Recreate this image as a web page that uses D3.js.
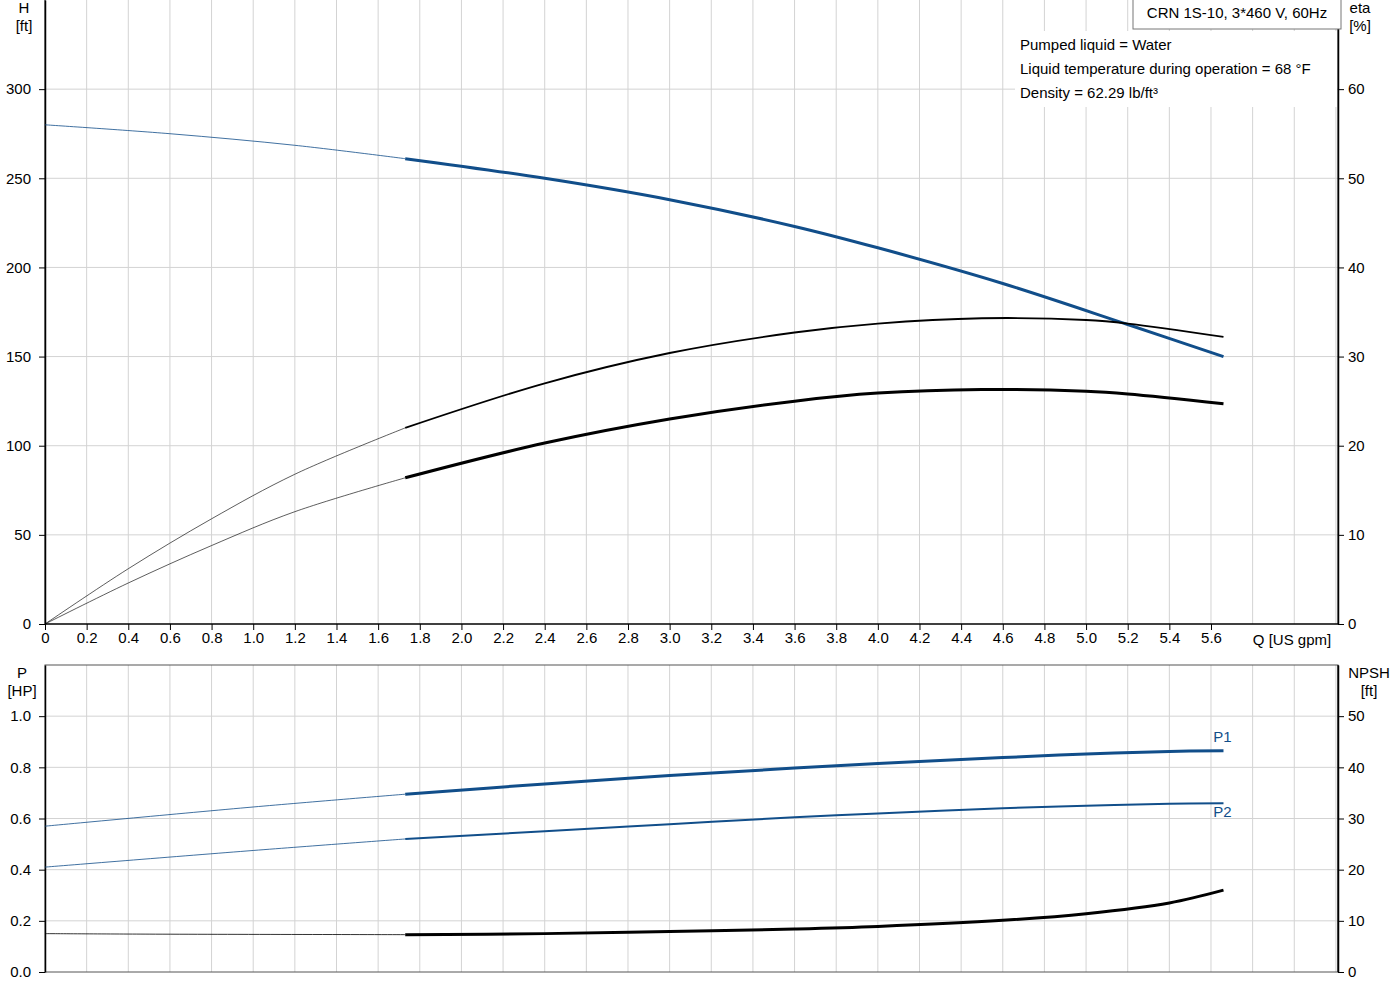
<!DOCTYPE html>
<html>
<head>
<meta charset="utf-8">
<script src="https://cdn.jsdelivr.net/npm/d3@7"></script>
<style>
body { margin: 0; background: #fff; }
text { font-family: Arial, "Liberation Sans", sans-serif; font-size: 15px; fill: #000; }
</style>
</head>
<body>
<svg id="chart"></svg>
<script>
// data
var qTicks = [0, 0.2, 0.4, 0.6, 0.8, 1.0, 1.2, 1.4, 1.6, 1.8, 2.0, 2.2, 2.4, 2.6, 2.8, 3.0, 3.2, 3.4, 3.6, 3.8, 4.0, 4.2, 4.4, 4.6, 4.8, 5.0, 5.2, 5.4, 5.6];
var hTicks = [0, 50, 100, 150, 200, 250, 300];
var etaTicks = [0, 10, 20, 30, 40, 50, 60];
var pTicks = [0, 0.2, 0.4, 0.6, 0.8, 1.0];
var npshTicks = [0, 10, 20, 30, 40, 50];

var qStart = 1.73; // start of the operating range (thick part)
var qHead = [0, 0.6, 1.2, 1.73, 2.4, 3.0, 3.6, 4.0, 4.6, 5.2, 5.66];
var head = [280, 275, 268.5, 261, 250, 238, 223, 211, 191, 168, 150];
var qEta = [0, 0.4, 0.8, 1.2, 1.73, 2.4, 3.0, 3.6, 4.0, 4.5, 5.0, 5.2, 5.66];
var eta1 = [0, 6.2, 11.8, 16.8, 22, 27, 30.4, 32.7, 33.7, 34.3, 34.1, 33.7, 32.2];
var eta2 = [0, 4.6, 8.8, 12.6, 16.4, 20.3, 23, 25, 25.9, 26.3, 26.1, 25.8, 24.7];
var qPow = [0, 1.0, 1.73, 2.4, 3.0, 3.6, 4.0, 4.6, 5.0, 5.4, 5.66];
var p1 = [0.57, 0.645, 0.695, 0.735, 0.768, 0.797, 0.815, 0.838, 0.852, 0.862, 0.865];
var p2 = [0.41, 0.475, 0.52, 0.55, 0.578, 0.605, 0.62, 0.64, 0.65, 0.658, 0.66];
var qNpsh = [0, 0.5, 1.73, 2.4, 3.0, 3.6, 4.0, 4.6, 5.0, 5.4, 5.66];
var npsh = [7.5, 7.4, 7.3, 7.5, 7.9, 8.4, 8.9, 10.1, 11.4, 13.5, 16];

var W = 1400, H = 1000;
var svg = d3.select('#chart').attr('width', W).attr('height', H);

var left = 45, right = 1338;
var x = d3.scaleLinear().domain([0, 6.21]).range([left, right]);

// top panel
var yH = d3.scaleLinear().domain([0, 350]).range([624, 0]);
var yEta = d3.scaleLinear().domain([0, 70]).range([624, 0]);
// bottom panel
var yP = d3.scaleLinear().domain([0, 1.2]).range([972, 665]);
var yN = d3.scaleLinear().domain([0, 60]).range([972, 665]);

var grid = '#d3d3d3';
var blue = '#114e8a';

function vgrid(y0, y1) {
    var g = svg.append('g');
    d3.range(1, 32).forEach(function (i) {
        var xv = x(i * 0.2);
        if (xv > right) return;
        g.append('line').attr('x1', xv).attr('x2', xv).attr('y1', y0).attr('y2', y1)
            .attr('stroke', grid).attr('stroke-width', 1);
    });
}
function hgrid(scale, ticks) {
    ticks.forEach(function (t) {
        if (t === 0) return;
        svg.append('line').attr('x1', left).attr('x2', right)
            .attr('y1', scale(t)).attr('y2', scale(t))
            .attr('stroke', grid);
    });
}
vgrid(0, 624);
vgrid(665, 972);
hgrid(yH, hTicks);
hgrid(yP, pTicks);

// frames
svg.append('line').attr('x1', left).attr('x2', left).attr('y1', 0).attr('y2', 624).attr('stroke', '#000');
svg.append('line').attr('x1', right).attr('x2', right).attr('y1', 0).attr('y2', 624).attr('stroke', '#000');
svg.append('rect').attr('x', left).attr('y', 665).attr('width', right - left).attr('height', 307)
    .attr('fill', 'none').attr('stroke', '#555');
svg.append('line').attr('x1', right).attr('x2', right).attr('y1', 665).attr('y2', 972).attr('stroke', '#000');

// axes
function axis(gen, tx, ty, fmt) {
    var g = svg.append('g').attr('transform', 'translate(' + tx + ',' + ty + ')').call(gen.tickFormat(fmt).tickSizeOuter(0));
    g.selectAll('.domain').attr('stroke', '#000');
    g.selectAll('text').style('font-size', '15px');
    return g;
}
axis(d3.axisLeft(yH).tickValues(hTicks).tickSize(6).tickPadding(8), left, 0, d3.format('d'));
axis(d3.axisRight(yEta).tickValues(etaTicks).tickSize(6).tickPadding(4), right, 0, d3.format('d'));
var xa = axis(d3.axisBottom(x).tickValues(qTicks).tickSize(6).tickPadding(2), 0, 624, function (d) { return d === 0 ? '0' : d3.format('.1f')(d); });
xa.select('.domain').attr('d', 'M' + left + ',0H' + right);
axis(d3.axisLeft(yP).tickValues(pTicks).tickSize(6).tickPadding(8), left, 0, d3.format('.1f'));
axis(d3.axisRight(yN).tickValues(npshTicks).tickSize(6).tickPadding(4), right, 0, d3.format('d'));
svg.selectAll('.domain').attr('stroke-width', 1.5);

// axis titles
function label(t, xx, yy, anchor, color) {
    svg.append('text').text(t).attr('x', xx).attr('y', yy).attr('text-anchor', anchor || 'middle')
        .style('fill', color || '#000');
}
label('H', 24, 13); label('[ft]', 24, 31);
label('eta', 1360, 13); label('[%]', 1360, 31);
label('Q [US gpm]', 1292, 645);
label('P', 22, 678); label('[HP]', 22, 696);
label('NPSH', 1369, 678); label('[ft]', 1369, 696);

// info box
svg.append('rect').attr('x', 1133).attr('y', -1).attr('width', 208).attr('height', 30)
    .attr('fill', '#fff').attr('stroke', '#777');
label('CRN 1S-10, 3*460 V, 60Hz', 1237, 18);
svg.append('rect').attr('x', 1015).attr('y', 31).attr('width', 322).attr('height', 76).attr('fill', '#fff');
label('Pumped liquid = Water', 1020, 50, 'start');
label('Liquid temperature during operation = 68 °F', 1020, 74, 'start');
label('Density = 62.29 lb/ft³', 1020, 98, 'start');

// curves
function curve(qs, vs, yScale, color, thin, thick) {
    var pts = qs.map(function (q, i) { return [q, vs[i]]; });
    var line = d3.line().x(function (d) { return x(d[0]); }).y(function (d) { return yScale(d[1]); })
        .curve(d3.curveCatmullRom.alpha(0.5));
    svg.append('path').attr('d', line(pts.filter(function (d) { return d[0] <= qStart; })))
        .attr('fill', 'none').attr('stroke', color).attr('stroke-width', thin).attr('stroke-opacity', 0.8);
    svg.append('path').attr('d', line(pts.filter(function (d) { return d[0] >= qStart; })))
        .attr('fill', 'none').attr('stroke', color).attr('stroke-width', thick);
}
curve(qHead, head, yH, blue, 1, 3);
curve(qEta, eta1, yEta, '#000', 0.8, 1.8);
curve(qEta, eta2, yEta, '#000', 0.8, 3);
curve(qPow, p1, yP, blue, 1, 3);
curve(qPow, p2, yP, blue, 1, 2);
curve(qNpsh, npsh, yN, '#000', 1, 3);

label('P1', x(5.66) - 1, yP(0.865) - 9, 'middle', blue);
label('P2', x(5.66) - 1, yP(0.66) + 14, 'middle', blue);
</script>
</body>
</html>
